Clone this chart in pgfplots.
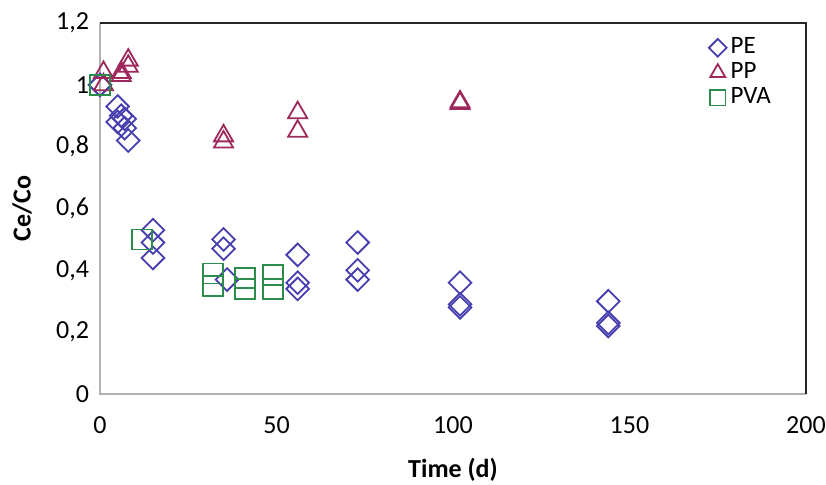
\documentclass[border=0pt]{standalone}
\usepackage{pgfplots}
\pgfplotsset{compat=1.18}
\usepackage{fontspec}
\setmainfont{Carlito}
\definecolor{pecol}{RGB}{70,62,175}
\definecolor{ppcol}{RGB}{158,40,92}
\definecolor{pvacol}{RGB}{45,140,75}
\begin{document}
\fontsize{13pt}{15pt}\selectfont
\begin{tikzpicture}
\begin{axis}[
  scale only axis,
  width=353pt, height=185.5pt,
  xmin=0, xmax=200, ymin=0, ymax=1.2,
  xtick={0,50,100,150,200},
  ytick={0,0.2,0.4,0.6,0.8,1,1.2},
  major tick length=0pt,
  axis line style={draw=none},
  /pgf/number format/assume math mode=true,
  /pgf/number format/use comma,
  /pgf/number format/fixed,
  /pgf/number format/precision=1,
  tick label style={font=\fontsize{13pt}{15pt}\selectfont},
  xticklabel style={yshift=-7pt},
  yticklabel style={xshift=-1pt},
  xlabel={\bfseries Time (d)},
  ylabel={\bfseries Ce/Co},
  xlabel style={at={(rel axis cs:0.5,0)}, anchor=center, yshift=-38pt, font=\fontsize{13pt}{15pt}\selectfont},
  every axis y label/.style={at={(rel axis cs:0,0.5)}, xshift=-39pt, anchor=center, rotate=90, font=\fontsize{13pt}{15pt}\selectfont},
  legend style={draw=none, fill=none, at={(rel axis cs:0.862,0.972)}, anchor=north west,
    font=\fontsize{12.5pt}{14pt}\selectfont, row sep=-1.5pt, inner sep=0pt},
  legend cell align=left,
  legend image code/.code={\draw[scale=0.78] plot coordinates {(0.12cm,0cm)};},
  clip=false,
]
\addplot[only marks, mark=square, mark size=4pt, mark options={rotate=45, draw=pecol, line width=0.9pt}] coordinates {
(0,1.0)(0,1.0)
(5,0.93)(5,0.88)(7,0.89)(7,0.86)(8,0.82)(6,0.90)
(15,0.53)(15,0.49)(15,0.44)
(35,0.50)(35,0.47)(36,0.37)
(56,0.45)(56,0.36)(56,0.34)
(73,0.49)(73,0.40)(73,0.37)
(102,0.36)(102,0.29)(102,0.28)
(144,0.30)(144,0.23)(144,0.22)
};
\addlegendentry{PE}
\addplot[only marks, mark=triangle, mark size=5.5pt, mark options={draw=ppcol, line width=0.9pt}] coordinates {
(1,1.04)(1,1.0)(6,1.03)(6,1.04)(8,1.08)(8,1.06)
(35,0.835)(35,0.815)
(56,0.91)(56,0.85)
(102,0.945)(102,0.94)
};
\addlegendentry{PP}
\addplot[only marks, mark=square, mark size=5pt, mark options={draw=pvacol, line width=0.9pt}] coordinates {
(0,1.0)(0,1.0)(12,0.50)(12,0.50)
(32,0.39)(32,0.35)(41,0.375)(41,0.34)(49,0.385)(49,0.34)
};
\addlegendentry{PVA}
\draw[gray!60, line width=0.8pt] (rel axis cs:0,1) -- (rel axis cs:0,0) -- (rel axis cs:1,0);
\draw[black!85, line width=1pt] (rel axis cs:0,1) -- (rel axis cs:1,1) -- (rel axis cs:1,0);
\end{axis}
\pgfresetboundingbox
\path[use as bounding box] (-50pt,-45pt) rectangle (363pt,197pt);
\end{tikzpicture}
\end{document}
